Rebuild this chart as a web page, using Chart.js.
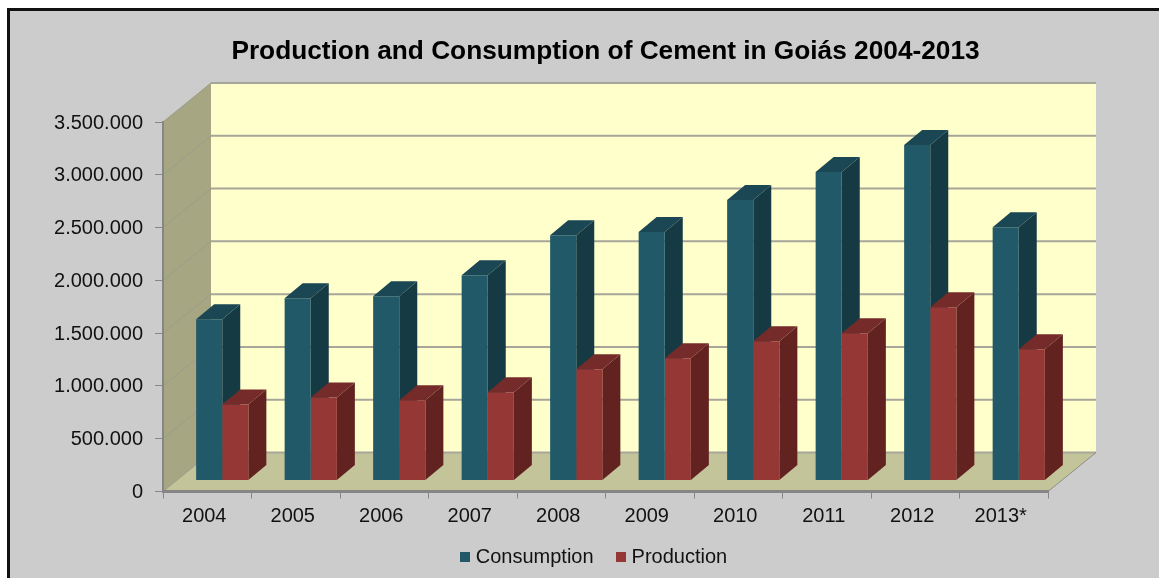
<!DOCTYPE html>
<html>
<head>
<meta charset="utf-8">
<title>Production and Consumption of Cement in Goiás</title>
<script src="https://cdn.jsdelivr.net/npm/chart.js@4/dist/chart.umd.min.js"></script>
<style>
  html, body { margin: 0; padding: 0; background: #fff; }
  canvas { display: block; }
</style>
</head>
<body>
<canvas id="cementChart" width="1159" height="578"></canvas>
<script>
const years = ['2004', '2005', '2006', '2007', '2008', '2009', '2010', '2011', '2012', '2013*'];
const consumption = [1527000, 1727000, 1745000, 1945000, 2324000, 2353000, 2656000, 2922000, 3178000, 2400000];
const production = [720000, 787000, 759000, 835000, 1053000, 1157000, 1319000, 1395000, 1641000, 1243000];

const FONT = '"Liberation Sans", Arial, sans-serif';
const AXIS_GREY = '#868686';

// fake 3D: how far the back wall and the bars sit behind the axis plane
const wallDepth = { x: 48, y: 39 };
const barOffset = { x: 15, y: 11 };
const barDepth = { x: 18, y: 15 };

const faces = [
  { front: '#215968', side: '#163A44', top: '#1B4653' },
  { front: '#953735', side: '#622220', top: '#742B29' }
];

function poly(ctx, color, pts) {
  ctx.fillStyle = color;
  ctx.beginPath();
  pts.forEach((p, i) => i ? ctx.lineTo(p[0], p[1]) : ctx.moveTo(p[0], p[1]));
  ctx.closePath();
  ctx.fill();
}

function legendSwatch(color) {
  const c = document.createElement('canvas');
  c.width = 10;
  c.height = 10;
  const g = c.getContext('2d');
  g.fillStyle = color;
  g.fillRect(0, 0, 10, 10);
  return c;
}

const room3d = {
  id: 'room3d',
  beforeDraw(chart) {
    const { ctx, chartArea: a, width, height } = chart;
    const yScale = chart.scales.y;
    const dx = wallDepth.x, dy = wallDepth.y;

    ctx.save();
    // page frame
    ctx.fillStyle = '#111';
    ctx.fillRect(7, 8, width, height);
    ctx.fillStyle = '#CCCCCC';
    ctx.fillRect(10, 11, width, height);

    // back wall, side wall, floor
    poly(ctx, '#FFFFCC', [[a.left + dx, a.top - dy], [a.right + dx, a.top - dy], [a.right + dx, a.bottom - dy], [a.left + dx, a.bottom - dy]]);
    poly(ctx, '#A6A682', [[a.left, a.top], [a.left + dx, a.top - dy], [a.left + dx, a.bottom - dy], [a.left, a.bottom]]);
    poly(ctx, '#C4C49B', [[a.left, a.bottom], [a.left + dx, a.bottom - dy], [a.right + dx, a.bottom - dy], [a.right, a.bottom]]);

    // gridlines run along the side wall and across the back wall
    yScale.ticks.forEach(t => {
      const y = yScale.getPixelForValue(t.value);
      ctx.strokeStyle = '#9C9C8C';
      ctx.lineWidth = 1;
      ctx.beginPath();
      ctx.moveTo(a.left, y);
      ctx.lineTo(a.left + dx, y - dy);
      ctx.stroke();
      ctx.strokeStyle = '#A6A69A';
      ctx.lineWidth = 2;
      ctx.beginPath();
      ctx.moveTo(a.left + dx, y - dy);
      ctx.lineTo(a.right + dx, y - dy);
      ctx.stroke();
    });

    // edge of the floor on the right
    ctx.strokeStyle = '#8E8E86';
    ctx.lineWidth = 1;
    ctx.beginPath();
    ctx.moveTo(a.right, a.bottom);
    ctx.lineTo(a.right + dx, a.bottom - dy);
    ctx.stroke();
    ctx.restore();
  },
  // bars are moved back onto the floor, side and top faces go under the fronts
  beforeDatasetsDraw(chart) {
    const { ctx } = chart;
    ctx.save();
    ctx.translate(barOffset.x, -barOffset.y);
    faces.forEach((face, i) => {
      chart.getDatasetMeta(i).data.forEach(bar => {
        const l = bar.x - bar.width / 2;
        const r = bar.x + bar.width / 2;
        const dx = barDepth.x, dy = barDepth.y;
        poly(ctx, face.side, [[r, bar.y], [r + dx, bar.y - dy], [r + dx, bar.base - dy], [r, bar.base]]);
        poly(ctx, face.top, [[l, bar.y], [l + dx, bar.y - dy], [r + dx, bar.y - dy], [r, bar.y]]);
      });
    });
  },
  afterDatasetsDraw(chart) {
    chart.ctx.restore();
  },
  // legend sits a little off the plot centre
  afterLayout(chart) {
    const legend = chart.legend;
    legend.left -= 9.5;
    legend.right -= 9.5;
    const h = legend.bottom - legend.top;
    legend.top = 520;
    legend.bottom = 520 + h;
  }
};

new Chart(document.getElementById('cementChart'), {
  type: 'bar',
  plugins: [room3d],
  data: {
    labels: years,
    datasets: [
      { label: 'Consumption', data: consumption, backgroundColor: faces[0].front, clip: false },
      { label: 'Production', data: production, backgroundColor: faces[1].front, clip: false }
    ]
  },
  options: {
    responsive: false,
    animation: false,
    categoryPercentage: 0.59,
    barPercentage: 1,
    layout: { padding: { left: 0, right: 111, top: 0, bottom: -16.5 } },
    scales: {
      x: {
        afterFit: s => { s.height = 46; },
        grid: { drawOnChartArea: false, color: AXIS_GREY, tickLength: 7, offset: true },
        border: { color: AXIS_GREY, width: 3 },
        ticks: { color: '#111', font: { family: FONT, size: 20 }, padding: 6, labelOffset: -3, maxRotation: 0, minRotation: 0 }
      },
      y: {
        min: 0,
        max: 3500000,
        afterFit: s => { s.width = 163; },
        grid: { drawOnChartArea: false, color: AXIS_GREY, tickLength: 8 },
        border: { color: AXIS_GREY, width: 2 },
        ticks: {
          stepSize: 500000,
          color: '#111',
          font: { family: FONT, size: 20 },
          padding: 12,
          labelOffset: 1,
          callback: v => String(v).replace(/\B(?=(\d{3})+$)/g, '.')
        }
      }
    },
    plugins: {
      title: {
        display: true,
        text: 'Production and Consumption of Cement in Goiás 2004-2013',
        fullSize: false,
        color: '#000',
        font: { family: FONT, size: 26.25, weight: 'bold', lineHeight: 1.2 },
        padding: { top: 36, bottom: 54.5 }
      },
      legend: {
        position: 'bottom',
        fullSize: false,
        labels: {
          color: '#111',
          font: { family: FONT, size: 20 },
          padding: 27,
          usePointStyle: true,
          pointStyleWidth: 1,
          generateLabels(chart) {
            const items = Chart.defaults.plugins.legend.labels.generateLabels(chart);
            items.forEach((item, i) => { item.pointStyle = legendSwatch(faces[i].front); });
            return items;
          }
        }
      },
      tooltip: { enabled: false }
    }
  }
});
</script>
</body>
</html>
